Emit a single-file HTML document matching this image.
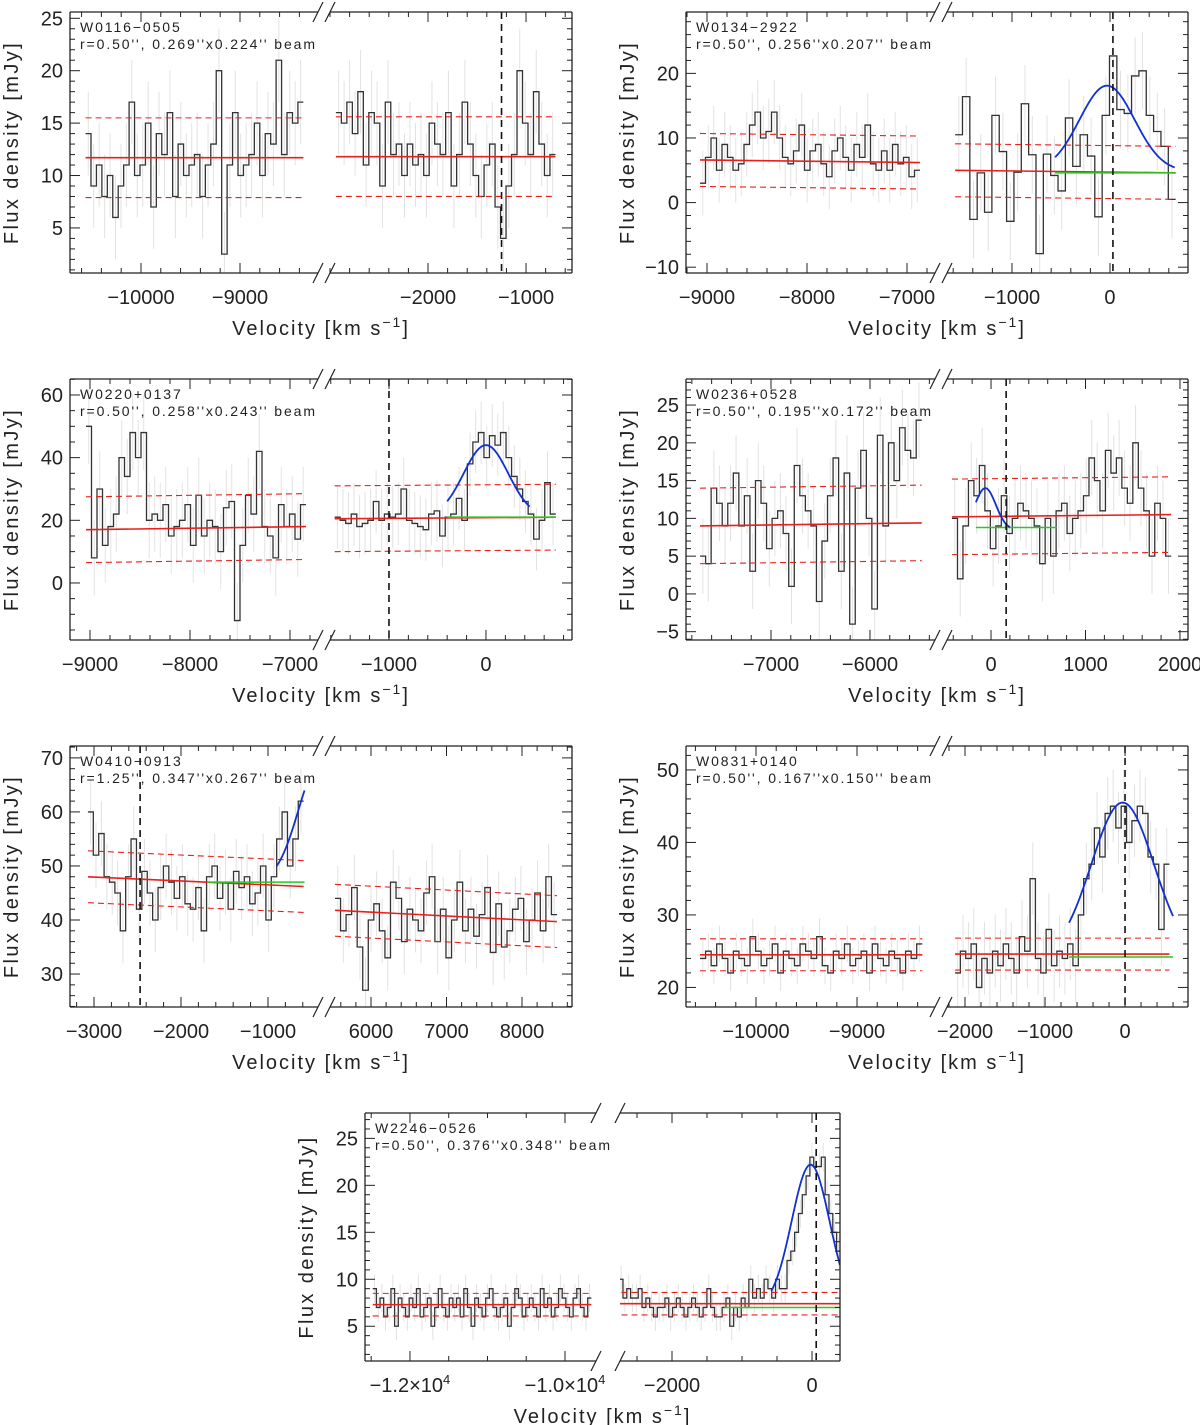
<!DOCTYPE html>
<html><head><meta charset="utf-8">
<style>
html,body{margin:0;padding:0;background:#fff;}
svg{display:block;font-family:"Liberation Sans",sans-serif;}
</style></head>
<body>
<svg id="fig" width="1200" height="1425" viewBox="0 0 1200 1425" xmlns="http://www.w3.org/2000/svg"></svg>
<script>
// ===== data arrays =====
const w0116L = [14,9,11,8,10,6,9,11,17,10,11,15,7,14,12,16,8,13,10,11,12,8,11,13,20,2.5,11,16,10,11,12,15,10,14,13,21,12,16,15,17];
const w0116R = [16,15,17,14,18,11,16,15,9,17,12,13,10,13,11,12,10,15,13,12,16,9,12,17,13,10,8,11,13,7,4,9,12,20,15,12,18,13,10,12];
const w0134L = [3,7,10,5,9,7,5,6,9,12,14,10,11,14,10,7,6,8,12,5,8,9,6,4,8,10,7,5,9,7,12,6,5,8,5,9,6,7,4,5];
const w0134R = [10.5,16.4,-2.6,4.6,-1.5,13.5,7.9,-2.9,4.7,15.3,7.4,-7.9,7.5,4.2,1.8,13.1,5.6,10.5,7.2,-2.2,13.5,22.7,14.4,13.8,19.6,20.4,13.5,11.0,8.7,0.5];
const w0220L = [50,8,30,12,18,22,40,34,48,40,48,20,22,20,25,15,18,20,25,12,28,15,20,18,10,24,26,-12,12,28,22,42,18,15,8,25,18,22,14,25];
const w0220R = [21,20,19,22,18,19,20,26,20,22,21,22,30,20,19,18,17,22,23,15,21,22,27,20,38,45,48,40,47,44,48,40,34,30,26,22,14,20,32,22];
const w0236L = [5,4,14,12,9,12,16,9,13,3,15,12,6,10,11,8,1,17,13,11,9,-1,7,13,18,3,16,-4,14,19,10,-2,21,9,20,15,22,19,18,23];
const w0236R = [10,2,9,15,13,17,11,6,9,13,8,10,12,11,10,9,4,10,5,11,12,8,10,11,13,18,15,11,19,16,18,14,12,20,14,11,5,12,10,5];
const w0410L = [60,52,56,48,47,45,38,48,55,42,49,45,40,46,50,47,44,48,43,42,46,38,48,50,44,47,42,49,46,48,43,45,50,40,48,55,60,50,55,62];
const w0410R = [44,38,41,46,35,27,40,43,38,33,47,44,36,42,40,38,45,48,36,42,33,40,47,38,42,37,41,46,34,43,35,38,42,44,36,40,45,38,48,41];
const w0831L = [24,25,23,26,24,22,25,24,23,27,25,23,24,26,22,25,24,23,26,25,24,27,23,22,25,24,26,23,24,25,22,26,24,23,25,24,22,25,24,26];
const w0831R = [22,25,24,26,20,24,22,25,23,26,24,22,27,25,35,24,22,28,23,25,24,26,23,30,35,37,42,38,44,45,42,45,40,43,45,44,38,37,28,37];
const w2246L = [9,7,8,6,7,9,5,8,7,6,8,7,9,6,7,8,5,7,9,7,6,8,7,8,6,9,7,5,8,7,6,8,9,7,6,7,8,5,7,9,8,6,7,8,7,6,9,7,8,6,7,9,8,7,6,8,9,7,6,8];
const w2246R = [11,9,10,8,9,8,8,9,7,8,7,6,7,7,8,6,7,8,7,6,7,8,7,6,7,9,7,6,6,7,8,5,7,6,8,7,10,8,9,8,10,9,8,10,9,9,12,13,15,17,19,21,23,22,22,23,19,17,15,13];
// ===== panel configuration =====
const panels = [
 {name:"W0116−0505", beam:"r=0.50'', 0.269''x0.224'' beam", x0:70,x1:572,bl:318,br:330,y0:12,y1:273,ylo:0.7,yhi:25.6,
  lv:[-10717,-8212], rv:[-3000,-531], yt:[5,10,15,20,25], ymin:1, lt:[-10000,-9000], lmin:200, rt:[-2000,-1000], rmin:200,
  L:{d:w0116L,v0:-10560,w:55,err:4}, R:{d:w0116R,v0:-2940,w:56,err:4},
  redL:[11.7,11.7], redR:[11.8,11.8], dash:3.8, vline:-1250, gauss:null, green:null},
 {name:"W0134−2922", beam:"r=0.50'', 0.256''x0.207'' beam", x0:686,x1:1188,bl:935,br:947,y0:12,y1:273,ylo:-10.9,yhi:29.5,
  lv:[-9210,-6720], rv:[-1663,796], yt:[-10,0,10,20], ymin:2, lt:[-9000,-8000,-7000], lmin:200, rt:[-1000,0], rmin:200,
  L:{d:w0134L,v0:-9070,w:55,err:5}, R:{d:w0134R,v0:-1580,w:75,err:6},
  redL:[6.6,6.2], redR:[5.0,4.6], dash:4.1, vline:30, gauss:{a:13.3,c:-30,s:280,b:4.8,from:-560,to:660}, green:{from:-560,to:660,val:4.6}},
 {name:"W0220+0137", beam:"r=0.50'', 0.258''x0.243'' beam", x0:70,x1:572,bl:318,br:330,y0:379,y1:640,ylo:-18.2,yhi:65.1,
  lv:[-9200,-6720], rv:[-1608,887], yt:[0,20,40,60], ymin:5, lt:[-9000,-8000,-7000], lmin:200, rt:[-1000,0], rmin:200,
  L:{d:w0220L,v0:-9040,w:55,err:12}, R:{d:w0220R,v0:-1560,w:57,err:10},
  redL:[17,18], redR:[20.5,21], dash:10.5, vline:-1000, gauss:{a:23,c:0,s:230,b:21,from:-400,to:450}, green:{from:-400,to:720,val:21}},
 {name:"W0236+0528", beam:"r=0.50'', 0.195''x0.172'' beam", x0:686,x1:1188,bl:935,br:947,y0:379,y1:640,ylo:-6.1,yhi:28.45,
  lv:[-7859,-5343], rv:[-466,2085], yt:[-5,0,5,10,15,20,25], ymin:1, lt:[-7000,-6000], lmin:200, rt:[0,1000,2000], rmin:200,
  L:{d:w0236L,v0:-7717,w:56,err:5}, R:{d:w0236R,v0:-413,w:58,err:5},
  redL:[9,9.4], redR:[10.2,10.5], dash:5, vline:160, gauss:{a:5.5,c:-60,s:110,b:8.5,from:-160,to:200}, green:{from:-160,to:700,val:8.8}},
 {name:"W0410−0913", beam:"r=1.25'', 0.347''x0.267'' beam", x0:70,x1:572,bl:318,br:330,y0:746,y1:1007,ylo:23.9,yhi:72.2,
  lv:[-3276,-425], rv:[5457,8662], yt:[30,40,50,60,70], ymin:2, lt:[-3000,-2000,-1000], lmin:200, rt:[6000,7000,8000], rmin:200,
  L:{d:w0410L,v0:-3070,w:62,err:6}, R:{d:w0410R,v0:5523,w:73.5,err:6},
  redL:[48,46.2], redR:[41.8,39.7], dash:4.8, vline:-2470, gauss:{a:22,c:-400,s:250,b:47,from:-900,to:-580}, green:{from:-1700,to:-580,val:47}},
 {name:"W0831+0140", beam:"r=0.50'', 0.167''x0.150'' beam", x0:686,x1:1188,bl:935,br:947,y0:746,y1:1007,ylo:17.3,yhi:53.3,
  lv:[-10693,-8228], rv:[-2225,787], yt:[20,30,40,50], ymin:2, lt:[-10000,-9000], lmin:200, rt:[-2000,-1000,0], rmin:200,
  L:{d:w0831L,v0:-10554,w:55,err:2.5}, R:{d:w0831R,v0:-2125,w:67,err:5},
  redL:[24.5,24.5], redR:[24.6,24.6], dash:2.2, vline:0, gauss:{a:21.5,c:-30,s:390,b:24,from:-700,to:600}, green:{from:-700,to:600,val:24.2}},
 {name:"W2246−0526", beam:"r=0.50'', 0.376''x0.348'' beam", x0:365,x1:840,bl:596,br:620,y0:1113,y1:1361,ylo:1.3,yhi:27.7,
  lv:[-12580,-9600], rv:[-2743,400], yt:[5,10,15,20,25], ymin:1, lt:[-12000,-10000], lmin:500, rt:[-2000,0], rmin:500,
  L:{d:w2246L,v0:-12480,w:47,err:1.5}, R:{d:w2246R,v0:-2864,w:54.5,err:1.5},
  redL:[7.3,7.3], redR:[7.4,7.4], dash:1.2, vline:60, gauss:{a:15.2,c:-20,s:270,b:7,from:-580,to:400}, green:{from:-1250,to:400,val:7.0}, sci:true}
];
// ===== drawing =====
const NS="http://www.w3.org/2000/svg";
const svg=document.getElementById('fig');
function el(tag,attrs,parent){const e=document.createElementNS(NS,tag);for(const k in attrs)e.setAttribute(k,attrs[k]);(parent||svg).appendChild(e);return e;}
function fmt(v){return (v<0?"−":"")+Math.abs(v);}
panels.forEach((p,pi)=>{
  const g=el('g',{});
  
  
  const Y=v=>p.y1-(v-p.ylo)/(p.yhi-p.ylo)*(p.y1-p.y0);
  const subs=[{k:'L',x0:p.x0,x1:p.bl,v:p.lv,t:p.lt,mn:p.lmin,red:p.redL},{k:'R',x0:p.br,x1:p.x1,v:p.rv,t:p.rt,mn:p.rmin,red:p.redR}];
  subs.forEach(s=>{
    const X=v=>s.x0+(v-s.v[0])/(s.v[1]-s.v[0])*(s.x1-s.x0);
    const cid='clip'+pi+s.k;
    const cp=el('clipPath',{id:cid},g);el('rect',{x:s.x0,y:p.y0,width:s.x1-s.x0,height:p.y1-p.y0},cp);
    const sg=el('g',{'clip-path':'url(#'+cid+')'},g);
    const D=p[s.k];
    D.d.forEach((val,i)=>{
      const vc=D.v0+(i+0.5)*D.w;
      const eb=el('line',{x1:X(vc),x2:X(vc),y1:Y(val-D.err),y2:Y(val+D.err),stroke:'#e2e2e2','stroke-width':1},sg);
      
      
    });
    let pts=[];
    D.d.forEach((val,i)=>{const a=X(D.v0+i*D.w),b=X(D.v0+(i+1)*D.w);pts.push(a+','+Y(val),b+','+Y(val));});
    const h=el('polyline',{points:pts.join(' '),fill:'none',stroke:'#333','stroke-width':1.3},sg);
    
    
    [[0,'none'],[p.dash,'6,4'],[-p.dash,'6,4']].forEach(([off,da])=>{
      const l=el('line',{x1:X(D.v0),x2:X(D.v0+D.d.length*D.w),y1:Y(s.red[0]+off),y2:Y(s.red[1]+off),stroke:'#e8201c','stroke-width':off===0?1.6:1.1,'stroke-dasharray':da},sg);
      
      
    });
    const inRange=v=>v>=Math.min(s.v[0],s.v[1])&&v<=Math.max(s.v[0],s.v[1]);
    if(p.green&&inRange(p.green.from)){
      const gl=el('line',{x1:X(p.green.from),x2:X(p.green.to),y1:Y(p.green.val),y2:Y(p.green.val),stroke:'#22cc22','stroke-width':1.5},sg);
      
      
    }
    if(p.gauss&&inRange(p.gauss.from)){
      const G=p.gauss;let gp=[];
      for(let k=0;k<=60;k++){const v=G.from+(G.to-G.from)*k/60;gp.push(X(v)+','+Y(G.b+G.a*Math.exp(-(v-G.c)*(v-G.c)/(2*G.s*G.s))));}
      const gl=el('polyline',{points:gp.join(' '),fill:'none',stroke:'#1030d0','stroke-width':1.8},sg);
      
      
    }
    if(inRange(p.vline)){
      const vl=el('line',{x1:X(p.vline),x2:X(p.vline),y1:p.y0,y2:p.y1,stroke:'#111','stroke-width':1.6,'stroke-dasharray':'7,5'},sg);
      
      
    }
    el('line',{x1:s.x0,x2:s.x1,y1:p.y0,y2:p.y0,stroke:'#222','stroke-width':1.3},g);
    el('line',{x1:s.x0,x2:s.x1,y1:p.y1,y2:p.y1,stroke:'#222','stroke-width':1.3},g);
    if(s.k==='L')el('line',{x1:s.x0,x2:s.x0,y1:p.y0,y2:p.y1,stroke:'#222','stroke-width':1.3},g);
    else el('line',{x1:s.x1,x2:s.x1,y1:p.y0,y2:p.y1,stroke:'#222','stroke-width':1.3},g);
    const lo=Math.min(s.v[0],s.v[1]),hi=Math.max(s.v[0],s.v[1]);
    for(let v=Math.ceil(lo/s.mn)*s.mn;v<=hi;v+=s.mn){
      const major=s.t.includes(v);const L=major?10:5;
      el('line',{x1:X(v),x2:X(v),y1:p.y1,y2:p.y1-L,stroke:'#222','stroke-width':1},g);
      el('line',{x1:X(v),x2:X(v),y1:p.y0,y2:p.y0+L,stroke:'#222','stroke-width':1},g);
    }
    s.t.forEach(v=>{
      const t=el('text',{x:X(v),y:p.y1+31,'font-size':20,'text-anchor':'middle',fill:'#222'},g);
      
      
      if(p.sci&&s.k==='L'){t.textContent='−'+(Math.abs(v)/10000).toFixed(1)+'×10';const sp=el('tspan',{dy:-8,'font-size':13},t);sp.textContent='4';}
      else t.textContent=fmt(v);
    });
    const bx=s.k==='L'?s.x1:s.x0;
    [p.y0,p.y1].forEach(yy=>el('line',{x1:bx-5,x2:bx+5,y1:yy+10,y2:yy-10,stroke:'#222','stroke-width':1.2},g));
  });
  for(let v=Math.ceil(p.ylo/p.ymin)*p.ymin;v<=p.yhi;v+=p.ymin){
    const major=p.yt.includes(Math.round(v*100)/100);const L=major?10:5;
    el('line',{x1:p.x0,x2:p.x0+L,y1:Y(v),y2:Y(v),stroke:'#222','stroke-width':1},g);
    el('line',{x1:p.x1,x2:p.x1-L,y1:Y(v),y2:Y(v),stroke:'#222','stroke-width':1},g);
  }
  p.yt.forEach(v=>{
    const t=el('text',{x:p.x0-7,y:Y(v)+7,'font-size':20,'text-anchor':'end',fill:'#222'},g);
    
    
    t.textContent=fmt(v);
  });
  const n=el('text',{x:p.x0+10,y:p.y0+20,'font-size':14,'letter-spacing':'1.9px',fill:'#222'},g);
  
  
  n.textContent=p.name;
  const b=el('text',{x:p.x0+10,y:p.y0+37,'font-size':14,'letter-spacing':'1.9px',fill:'#222'},g);
  
  
  b.textContent=p.beam;
  const yc=(p.y0+p.y1)/2;const yx=p.x0-52;
  const yl=el('text',{x:yx,y:yc,'font-size':20,'letter-spacing':'2.4px','text-anchor':'middle',fill:'#222',transform:'rotate(-90 '+yx+' '+yc+')'},g);
  
  
  yl.textContent='Flux density [mJy]';
  const xl=el('text',{x:(p.x0+p.x1)/2,y:p.y1+62,'font-size':20,'letter-spacing':'2px','text-anchor':'middle',fill:'#222'},g);
  
  
  xl.textContent='Velocity [km s';
  const sp=el('tspan',{dy:-8,'font-size':14},xl);sp.textContent='−1';
  const sp2=el('tspan',{dy:8},xl);sp2.textContent=']';
});
</script>
</body></html>
